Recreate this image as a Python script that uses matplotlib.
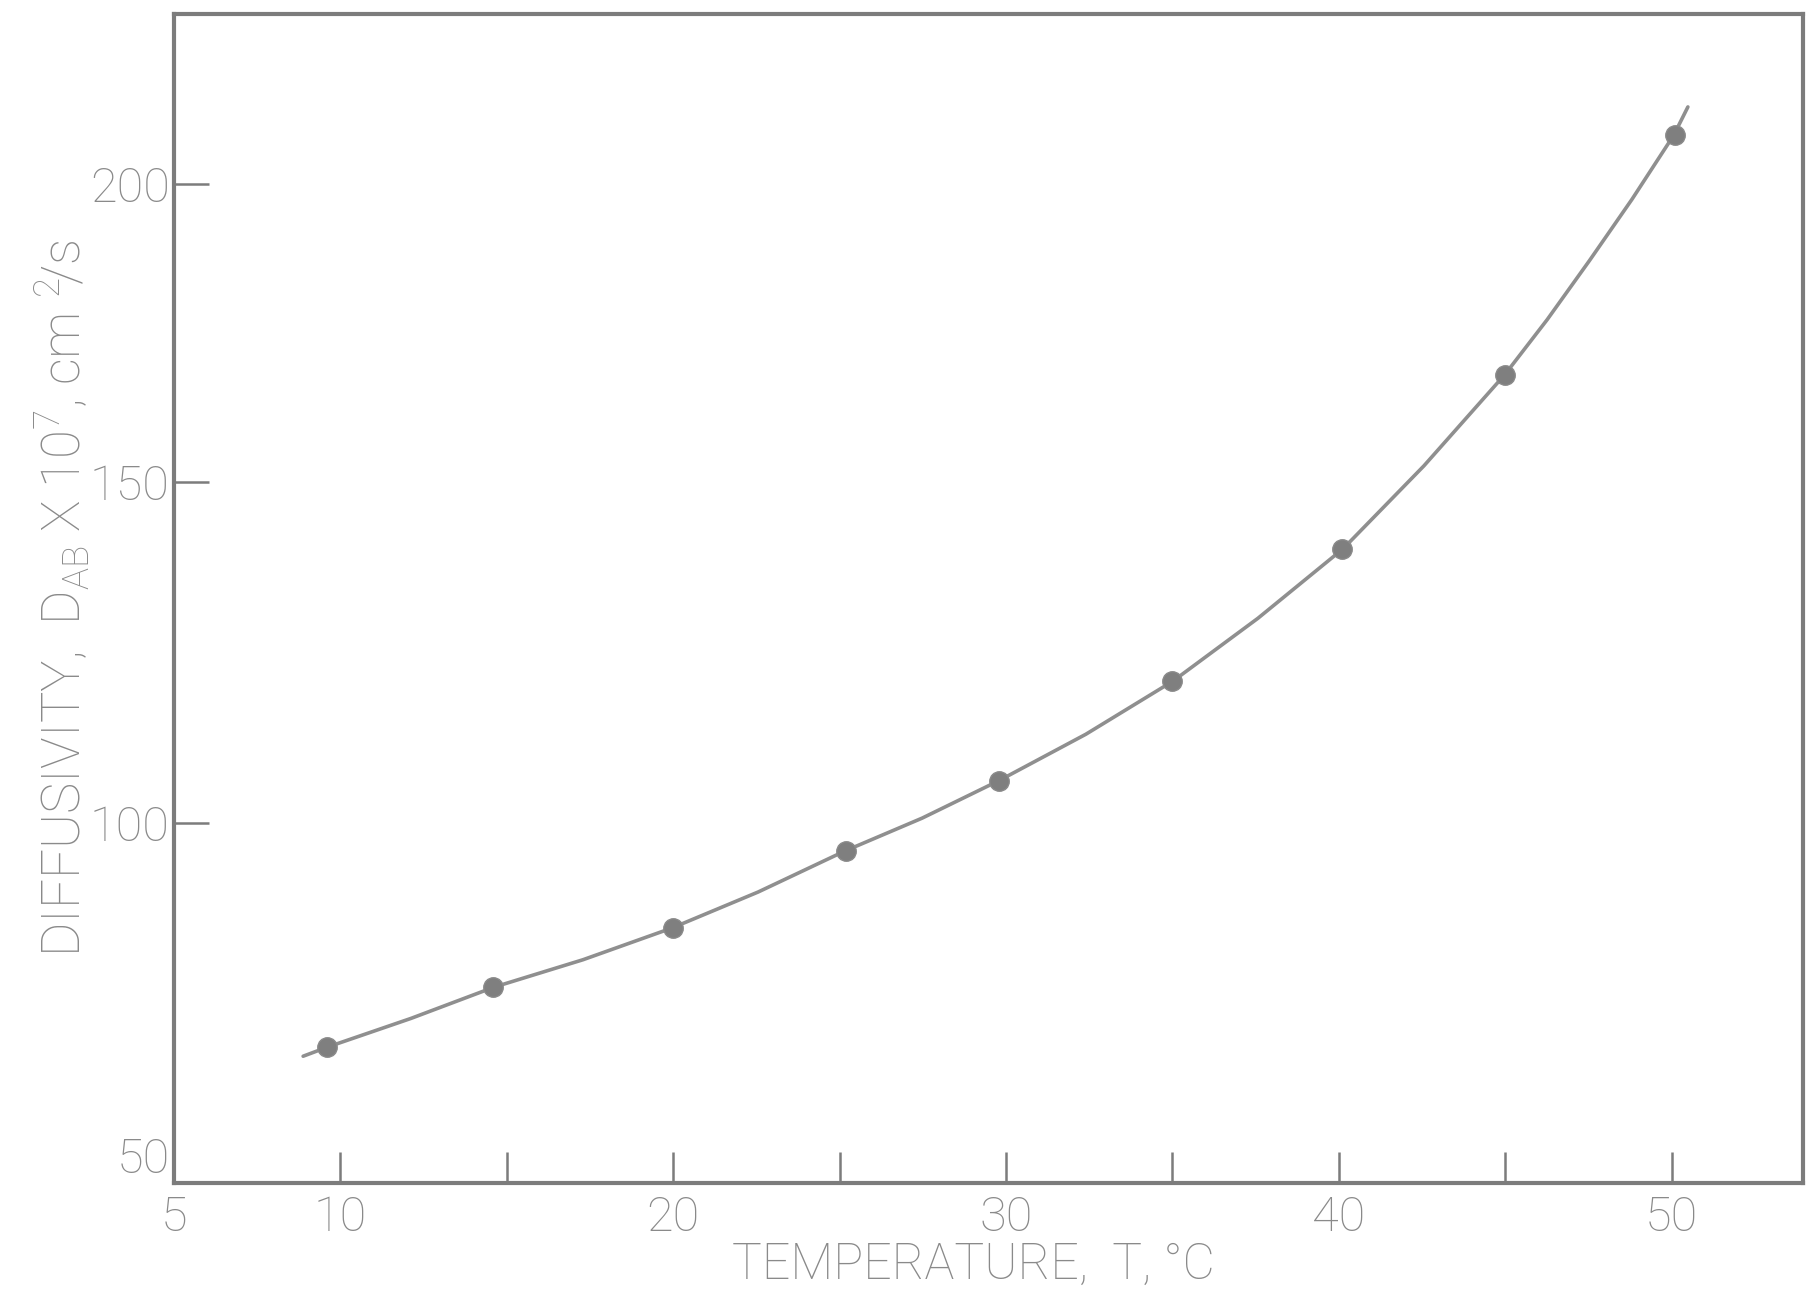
import numpy as np
import matplotlib
matplotlib.use("Agg")
import matplotlib.pyplot as plt

# measured data points (temperature in C, diffusivity x 10^7 cm2/s)
temp = [9.6, 14.6, 20.0, 25.2, 29.8, 35.0, 40.1, 45.0, 50.1]
diff = [68.9, 77.2, 85.4, 96.1, 106.2, 120.8, 140.2, 168.0, 208.2]

# hand-drawn smooth curve
curve_t = [8.88, 9.63, 12.12, 14.62, 17.29, 19.96, 22.55, 25.16, 27.48, 29.79,
           32.40, 35.02, 37.57, 40.13, 42.56, 44.99, 46.26, 47.53, 48.81,
           50.07, 50.49]
curve_d = [67.6, 68.9, 72.85, 77.2, 81.0, 85.4, 90.4, 96.1, 100.7, 106.2,
           113.0, 120.8, 130.0, 140.2, 152.7, 168.0, 177.2, 187.1, 197.4,
           208.2, 212.9]

xticks = [5, 10, 15, 20, 25, 30, 35, 40, 45, 50]
xticklabels = ['5', '10', '', '20', '', '30', '', '40', '', '50']
yticks = [50, 100, 150, 200]

# the y axis of the original drawing is not evenly spaced,
# so map tick values onto their drawn heights (pixels above the x axis)
knot_val = np.array([0, 50, 100, 150, 200, 300])
knot_pos = np.array([-360, 0, 360, 701, 999, 1595])


def fwd(v):
    return np.interp(v, knot_val, knot_pos)


def inv(p):
    return np.interp(p, knot_pos, knot_val)


ink = '#7c7c7c'
txt = '#8a8a8a'
fam = ['Liberation Sans Narrow', 'Roboto', 'DejaVu Sans']
plt.rcParams['font.family'] = fam

fig = plt.figure(figsize=(18.07, 12.92), dpi=100)
ax = fig.add_axes([0.0963, 0.0844, 0.9015, 0.9048])

ax.plot(curve_t, curve_d, color='#8f8f8f', lw=2.6, solid_capstyle='round',
        solid_joinstyle='round')
ax.plot(temp, diff, 'o', ms=14, color='#7f7f7f', mec='#8a8a8a')

ax.set_yscale('function', functions=(fwd, inv))
ax.set_xlim(5, 53.95)
ax.set_ylim(50, 228.5)

ax.set_xticks(xticks)
ax.set_xticklabels(xticklabels)
ax.set_yticks(yticks)
ax.set_yticklabels([str(v) for v in yticks])
ax.minorticks_off()

ax.tick_params(axis='x', direction='in', length=22, width=1.8, color=ink,
               labelsize=35, labelcolor=txt, pad=8)
ax.tick_params(axis='y', direction='in', length=25, width=1.8, color=ink,
               labelsize=35, labelcolor=txt, pad=3)
for lab in ax.get_xticklabels() + ax.get_yticklabels():
    lab.set_fontweight('light')
# corner label "50" sits just above the x axis, clear of the "5"
ax.get_yticklabels()[0].set_va('bottom')

for s in ax.spines.values():
    s.set_color(ink)
    s.set_linewidth(3)

ax.set_xlabel('TEMPERATURE,  T, °C', fontsize=36, color=txt, fontweight='light')
ax.xaxis.set_label_coords(0.491, -0.05)
ax.set_ylabel(r'DIFFUSIVITY,  D$_{\mathregular{AB}}$ X 10$^{\mathregular{7}}$, cm $^{\mathregular{2}}\!$/s',
              fontsize=38, color=txt, fontweight='light')
ax.yaxis.set_label_coords(-0.050, 0.5)

fig.savefig('out.png', dpi=100, facecolor='white')
